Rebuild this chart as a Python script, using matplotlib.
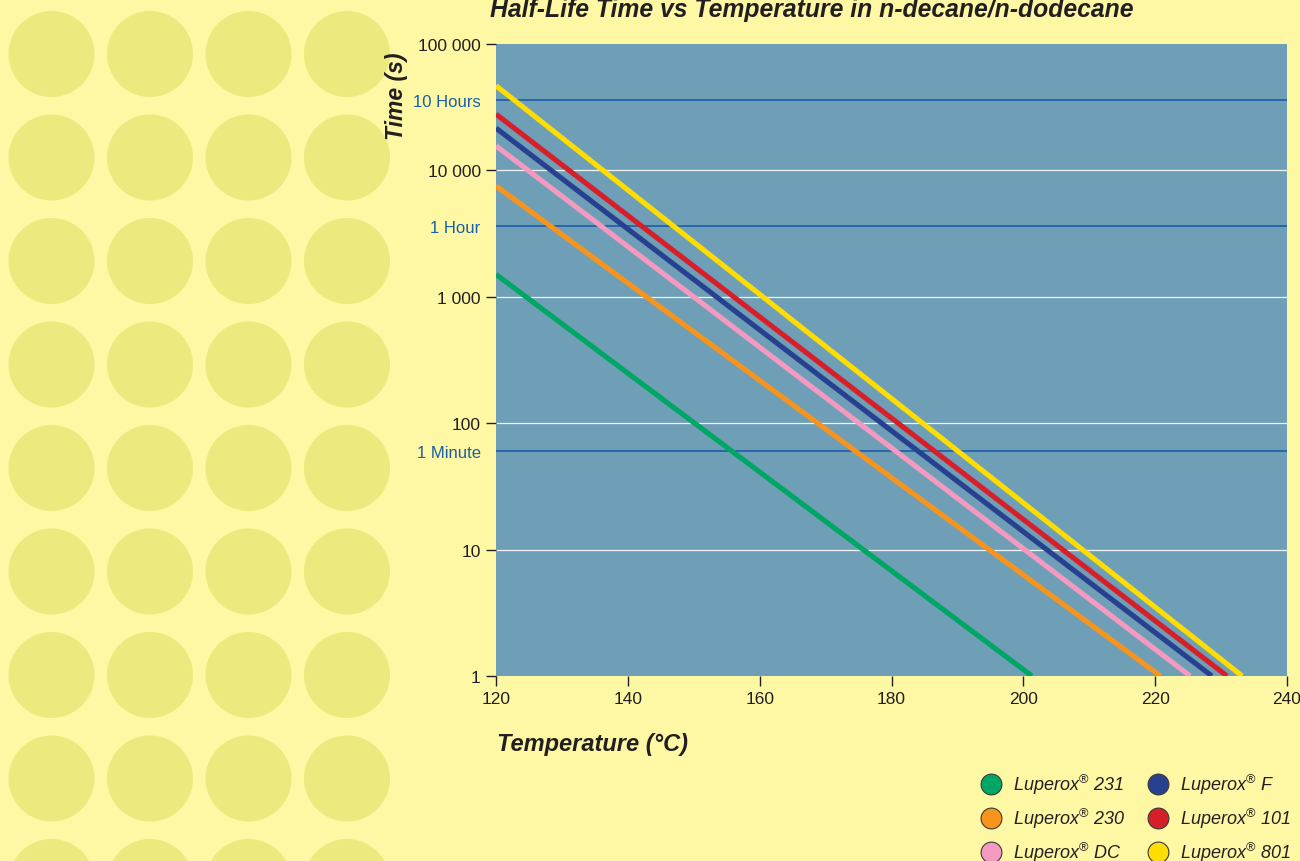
import matplotlib
matplotlib.use('Agg')
import matplotlib.pyplot as plt
from matplotlib.patches import Circle
from matplotlib.lines import Line2D

# half-life lines: time at 120 C and temperature where time hits 1 s
names = ['Luperox® 231', 'Luperox® 230', 'Luperox® DC',
         'Luperox® F', 'Luperox® 101', 'Luperox® 801']
colors = ['#00A764', '#F7941D', '#F49AC1', '#27408F', '#D71F2A', '#FFDD00']
time_at_120 = [1505, 7540, 15640, 21600, 27870, 46770]
temp_at_1s = [201.3, 220.8, 225.3, 228.6, 230.9, 233.2]

yticks = [1, 10, 100, 1000, 10000, 100000]
ytick_labels = ['1', '10', '100', '1 000', '10 000', '100 000']
marker_times = [36000, 3600, 60]
marker_labels = ['10 Hours', '1 Hour', '1 Minute']
xticks = [120, 140, 160, 180, 200, 220, 240]

BG = '#FEF8A4'
DOT = '#ECEA7E'
PLOT_BG = '#6F9FB7'
DARK = '#231F20'
HOUR_BLUE = '#1A5EA8'
FONT = 'Liberation Sans'

plt.rcParams['mathtext.fontset'] = 'custom'
plt.rcParams['mathtext.rm'] = 'Liberation Sans'
plt.rcParams['mathtext.it'] = 'Liberation Sans:italic'

fig = plt.figure(figsize=(13, 8.62), dpi=100, facecolor=BG)

# decorative dot pattern on the left
bg = fig.add_axes([0, 0, 1, 1], zorder=0)
bg.set_xlim(0, 1300)
bg.set_ylim(862, 0)
bg.axis('off')
for cy in [55 + 103.5 * k for k in range(9)]:
    for cx in [51.5, 150, 248.5, 347]:
        bg.add_patch(Circle((cx, cy), 43, color=DOT, lw=0))

ax = fig.add_axes([496 / 1300, 1 - 677 / 862, 791 / 1300, 632 / 862], zorder=1)
ax.set_facecolor(PLOT_BG)
ax.set_yscale('log')
ax.set_xlim(120, 240)
ax.set_ylim(1, 100000)

for y in [10, 100, 1000, 10000]:
    ax.axhline(y, color='#EEF3F5', lw=0.9, zorder=1)
for y in marker_times:
    ax.axhline(y, color=HOUR_BLUE, lw=1.2, zorder=1)

for name, c, t0, T1 in zip(names, colors, time_at_120, temp_at_1s):
    ax.plot([120, T1], [t0, 1], color=c, lw=3.7, solid_capstyle='butt', zorder=3)

for s in ax.spines.values():
    s.set_visible(False)

ax.set_yticks(yticks)
ax.set_yticklabels(ytick_labels, family=FONT, fontsize=12.5, color=DARK)
ax.set_yticks(marker_times, minor=True)
ax.set_yticklabels(marker_labels, minor=True, family=FONT, fontsize=12, color=HOUR_BLUE)
ax.set_xticks(xticks)
ax.set_xticklabels([str(x) for x in xticks], family=FONT, fontsize=12.5, color=DARK)
ax.tick_params(axis='y', which='major', direction='out', length=7, width=1, color=DARK, pad=4)
ax.tick_params(axis='y', which='minor', length=0, pad=11)
ax.tick_params(axis='x', direction='out', length=7, width=1, color=DARK, pad=4)

fig.text(812 / 1300, 1 - 17 / 862, 'Half-Life Time vs Temperature in n-decane/n-dodecane',
         ha='center', va='baseline', fontsize=17.8, fontweight='bold', fontstyle='italic',
         family=FONT, color=DARK)
fig.text(397 / 1300, 1 - 96 / 862, 'Time (s)', rotation=90, ha='center', va='center',
         fontsize=16.5, fontweight='bold', fontstyle='italic', family=FONT, color=DARK)
fig.text(497 / 1300, 1 - 745 / 862, 'Temperature (°C)', ha='left', va='center',
         fontsize=17, fontweight='bold', fontstyle='italic', family=FONT, color=DARK)

handles = [Line2D([], [], ls='', marker='o', markersize=15, markerfacecolor=c,
                  markeredgecolor='#3A3A3A', markeredgewidth=0.8) for c in colors]
labels = [n.replace('®', r'$^{\mathrm{®}}$') for n in names]
leg = fig.legend(handles, labels, ncol=2, loc='upper left',
                 bbox_to_anchor=(982 / 1300, 1 - 773 / 862), frameon=False,
                 prop={'family': FONT, 'style': 'italic', 'size': 13},
                 handlelength=1.0, handletextpad=0.72, columnspacing=1.35,
                 labelspacing=0.55, borderpad=0, borderaxespad=0)
for t in leg.get_texts():
    t.set_color(DARK)

fig.savefig('out.png', dpi=100, facecolor=BG)
